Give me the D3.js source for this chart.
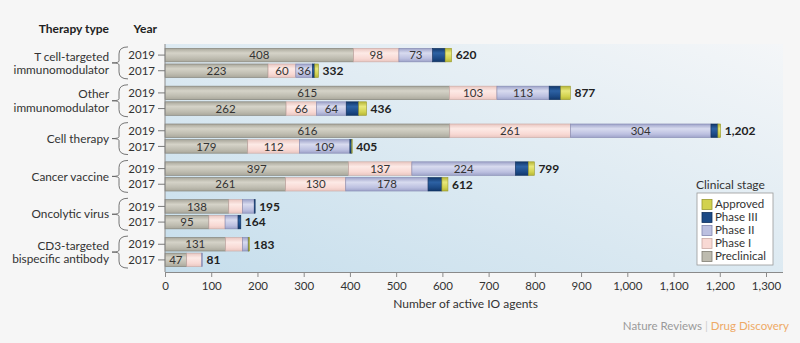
<!DOCTYPE html>
<html lang="en">
<head>
  <meta charset="UTF-8">
  <title>Active IO agents by therapy type</title>
  <script src="https://cdn.jsdelivr.net/npm/d3@7"></script>
  <style>
    body { margin: 0; background: #f6f6f6; }
    svg { display: block; font-family: Lato, "Liberation Sans", sans-serif; }
  </style>
</head>
<body>
<div id="chart"></div>
<script>
  // therapy types (label lines) and years, top to bottom
  const groupLabels = [
    ["T cell-targeted", "immunomodulator"],
    ["Other", "immunomodulator"],
    ["Cell therapy"],
    ["Cancer vaccine"],
    ["Oncolytic virus"],
    ["CD3-targeted", "bispecific antibody"]
  ];
  const years = ["2019", "2017"];
  const stages = ["Preclinical", "Phase I", "Phase II", "Phase III", "Approved"];

  // one value per row: group x year, in order
  const preclinical = [408, 223, 615, 262, 616, 179, 397, 261, 138, 95, 131, 47];
  const phase1      = [98, 60, 103, 66, 261, 112, 137, 130, 30, 35, 37, 32];
  const phase2      = [73, 36, 113, 64, 304, 109, 224, 178, 25, 28, 12, 2];
  const phase3      = [27, 5, 25, 27, 15, 4, 28, 30, 2, 6, 1, 0];
  const approved    = [14, 8, 21, 17, 6, 1, 13, 13, 0, 0, 2, 0];
  const totals      = [620, 332, 877, 436, 1202, 405, 799, 612, 195, 164, 183, 81];
  const xTicks = [0, 100, 200, 300, 400, 500, 600, 700, 800, 900, 1000, 1100, 1200, 1300];

  const width = 800, height = 343;
  const margin = { top: 44, right: 17, bottom: 71, left: 165 };

  const rows = [];
  groupLabels.forEach((g, gi) => {
    years.forEach((y, yi) => {
      const i = gi * 2 + yi;
      rows.push({
        group: gi, year: y, total: totals[i],
        "Preclinical": preclinical[i], "Phase I": phase1[i], "Phase II": phase2[i],
        "Phase III": phase3[i], "Approved": approved[i]
      });
    });
  });

  const colors = {
    "Preclinical": ["#a9a79b", "#d5d3c8", "#bdbbaf"],
    "Phase I":     ["#e9c6c0", "#fdeae6", "#f8d9d4"],
    "Phase II":    ["#9ea3c9", "#d8dbef", "#bcc0e0"],
    "Phase III":   ["#12376a", "#2d62a4", "#1c4a86"],
    "Approved":    ["#b5b536", "#e8e87c", "#d2d24e"]
  };
  const strokes = {
    "Preclinical": "#7f7d73", "Phase I": "#c9a8a3", "Phase II": "#8287b0",
    "Phase III": "#10305c", "Approved": "#9a9a30"
  };

  const svg = d3.select("#chart").append("svg")
    .attr("width", width).attr("height", height);

  const defs = svg.append("defs");
  const bg = defs.append("linearGradient").attr("id", "plotbg")
    .attr("x1", 0).attr("y1", 1).attr("x2", 1).attr("y2", 0);
  bg.append("stop").attr("offset", "0%").attr("stop-color", "#c6deec");
  bg.append("stop").attr("offset", "100%").attr("stop-color", "#f4f6f8");

  stages.forEach((s, i) => {
    const g = defs.append("linearGradient").attr("id", "grad" + i)
      .attr("x1", 0).attr("y1", 0).attr("x2", 0).attr("y2", 1);
    g.append("stop").attr("offset", "0%").attr("stop-color", colors[s][0]);
    g.append("stop").attr("offset", "35%").attr("stop-color", colors[s][1]);
    g.append("stop").attr("offset", "75%").attr("stop-color", colors[s][2]);
    g.append("stop").attr("offset", "100%").attr("stop-color", colors[s][0]);
  });

  const x = d3.scaleLinear().domain([0, 1300])
    .range([margin.left, margin.left + 601]);
  const plotRight = width - margin.right;

  const yGroup = d3.scaleBand().domain(d3.range(groupLabels.length))
    .range([margin.top, height - margin.bottom - 1]).paddingInner(0).paddingOuter(0);
  const yYear = d3.scaleBand().domain(years).range([0, 29.2]).paddingInner(0.135);
  const groupCenter = gi => yGroup(gi) + yGroup.bandwidth() / 2;
  const rowY = r => groupCenter(r.group) - 14.6 + yYear(r.year);
  const rowMid = r => rowY(r) + yYear.bandwidth() / 2;

  // plot background
  svg.append("rect")
    .attr("x", margin.left).attr("y", margin.top)
    .attr("width", plotRight - margin.left).attr("height", height - margin.bottom - margin.top)
    .attr("fill", "url(#plotbg)");

  // stacked bars
  const stacked = d3.stack().keys(stages)(rows);
  const layer = svg.append("g").selectAll("g").data(stacked).join("g")
    .attr("fill", (d, i) => `url(#grad${i})`)
    .attr("stroke", d => strokes[d.key])
    .attr("stroke-width", 0.6);
  layer.selectAll("rect").data(d => d).join("rect")
    .attr("x", d => x(d[0]))
    .attr("y", d => rowY(d.data))
    .attr("width", d => Math.max(0, x(d[1]) - x(d[0])))
    .attr("height", yYear.bandwidth())
    .attr("display", d => d[1] - d[0] > 0 ? null : "none");

  // value labels inside segments
  const labels = svg.append("g").attr("font-size", 11.5).attr("fill", "#333").attr("text-anchor", "middle");
  stacked.slice(0, 3).forEach((s, si) => {
    s.forEach(d => {
      if (si > 0 && d.data.total < 300) return;
      labels.append("text")
        .attr("x", (x(d[0]) + x(d[1])) / 2)
        .attr("y", rowMid(d.data))
        .attr("dy", "0.36em")
        .text(d[1] - d[0]);
    });
  });

  // totals
  svg.append("g").selectAll("text").data(rows).join("text")
    .attr("x", d => x(d.total) + 4)
    .attr("y", d => rowMid(d))
    .attr("dy", "0.36em")
    .attr("font-size", 12).attr("font-weight", "bold").attr("fill", "#222")
    .text(d => d3.format(",")(d.total));

  // left axis line
  svg.append("line")
    .attr("x1", margin.left).attr("x2", margin.left)
    .attr("y1", margin.top).attr("y2", height - margin.bottom)
    .attr("stroke", "#8a8a8a");

  // year ticks and labels
  const yearG = svg.append("g").selectAll("g").data(rows).join("g");
  yearG.append("line")
    .attr("x1", 158).attr("x2", margin.left)
    .attr("y1", d => rowMid(d)).attr("y2", d => rowMid(d))
    .attr("stroke", "#777");
  yearG.append("text")
    .attr("x", 155).attr("y", d => rowMid(d)).attr("dy", "0.36em")
    .attr("text-anchor", "end").attr("font-size", 11.5).attr("fill", "#333")
    .text(d => d.year);

  // group braces and labels
  const grp = svg.append("g").selectAll("g").data(groupLabels).join("g");
  grp.append("path")
    .attr("fill", "none").attr("stroke", "#666").attr("stroke-width", 0.9)
    .attr("d", (d, gi) => {
      const c = groupCenter(gi), t = c - 16, b = c + 16;
      return `M128,${t} Q119,${t} 119,${t + 7} L119,${c - 2} Q119,${c} 112,${c} Q119,${c} 119,${c + 2} L119,${b - 7} Q119,${b} 128,${b}`;
    });
  grp.each(function(lines, gi) {
    const c = groupCenter(gi);
    const t = d3.select(this).append("text")
      .attr("text-anchor", "end").attr("font-size", 11.8).attr("fill", "#333");
    lines.forEach((ln, li) => {
      const off = lines.length === 1 ? 0 : (li === 0 ? -6.5 : 7);
      t.append("tspan").attr("x", 109).attr("y", c + off).attr("dy", "0.36em").text(ln);
    });
  });

  // column headers
  svg.append("text").attr("x", 109).attr("y", 33).attr("text-anchor", "end")
    .attr("font-size", 12).attr("font-weight", "bold").attr("fill", "#222").text("Therapy type");
  svg.append("text").attr("x", 157).attr("y", 33).attr("text-anchor", "end")
    .attr("font-size", 12).attr("font-weight", "bold").attr("fill", "#222").text("Year");

  // x-axis
  const xAxis = svg.append("g")
    .attr("transform", `translate(0,${height - margin.bottom})`)
    .call(d3.axisBottom(x).tickValues(xTicks).tickFormat(d3.format(",")).tickSize(5).tickSizeOuter(0));
  xAxis.select(".domain").attr("d", `M${margin.left},0.5H${plotRight}`).attr("stroke", "#8a8a8a");
  xAxis.selectAll(".tick line").attr("stroke", "#8a8a8a");
  xAxis.selectAll(".tick text").attr("font-size", 11.5).attr("fill", "#333")
    .attr("font-family", "Lato, sans-serif").attr("dy", "0.9em");

  svg.append("text")
    .attr("x", (x(0) + x(1300)) / 2).attr("y", 308)
    .attr("text-anchor", "middle").attr("font-size", 12).attr("fill", "#333")
    .text("Number of active IO agents");

  // legend
  const legX = 697, legY = 193;
  svg.append("text").attr("x", legX - 1).attr("y", 189)
    .attr("font-size", 12).attr("fill", "#333").text("Clinical stage");
  svg.append("rect").attr("x", legX).attr("y", legY).attr("width", 76).attr("height", 72)
    .attr("fill", "#fff").attr("stroke", "#999").attr("stroke-width", 0.8);
  const legItems = stages.slice().reverse();
  const leg = svg.append("g").selectAll("g").data(legItems).join("g")
    .attr("transform", (d, i) => `translate(${legX + 5},${legY + 11.5 + i * 13})`);
  leg.append("rect").attr("x", 0).attr("y", -5).attr("width", 10).attr("height", 10)
    .attr("fill", d => colors[d][2]).attr("stroke", d => strokes[d]).attr("stroke-width", 0.8);
  leg.append("text").attr("x", 13).attr("y", 0).attr("dy", "0.34em")
    .attr("font-size", 11.5).attr("fill", "#333").text(d => d);

  // footer
  const foot = svg.append("text").attr("x", 789).attr("y", 330)
    .attr("text-anchor", "end").attr("font-size", 11.5);
  foot.append("tspan").attr("fill", "#9a9a9a").text("Nature Reviews ");
  foot.append("tspan").attr("fill", "#cfcfcf").text("| ");
  foot.append("tspan").attr("fill", "#eeaa66").text("Drug Discovery");
</script>
</body>
</html>
